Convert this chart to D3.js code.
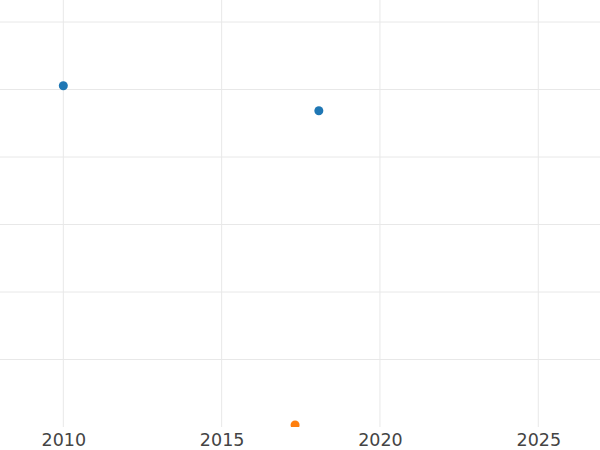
<!DOCTYPE html>
<html lang="en">
<head>
    <meta charset="utf-8">
    <title>Scatter</title>
    <script type="text/javascript" src="https://d3js.org/d3.v7.min.js"></script>
    <style type="text/css">
        body { margin: 0; background: #fff; }
        svg { font-family: "DejaVu Sans", sans-serif; }
    </style>
</head>
<body>
<script type="text/javascript">

    // data
    var blueYears = [2010.0, 2018.07];
    var blueValues = [50.55, 46.85];
    var orangeYears = [2017.32];
    var orangeValues = [0.3];
    var xTicks = [2010, 2015, 2020, 2025];
    var yTicks = [0, 10, 20, 30, 40, 50, 60];

    var width = 600, height = 450;
    var plotBottom = 427;

    var x = d3.scaleLinear()
        .domain([2008, 2026.95])
        .range([0, width]);

    var y = d3.scaleLinear()
        .domain([0, 63.26])
        .range([plotBottom, 0]);

    var svg = d3.select("body")
        .append("svg")
        .attr("width", width)
        .attr("height", height);

    svg.append("defs").append("clipPath")
        .attr("id", "plot-clip")
        .append("rect")
        .attr("x", 0).attr("y", 0)
        .attr("width", width).attr("height", plotBottom);

    // grid
    svg.append("g")
        .selectAll("line.v")
        .data(xTicks)
        .enter()
        .append("line")
        .attr("x1", function(d) { return x(d); })
        .attr("x2", function(d) { return x(d); })
        .attr("y1", 0)
        .attr("y2", plotBottom)
        .attr("stroke", "#e8e8e8")
        .attr("stroke-width", 1);

    svg.append("g")
        .selectAll("line.h")
        .data(yTicks.slice(1))
        .enter()
        .append("line")
        .attr("x1", 0)
        .attr("x2", width)
        .attr("y1", function(d) { return y(d); })
        .attr("y2", function(d) { return y(d); })
        .attr("stroke", "#e8e8e8")
        .attr("stroke-width", 1);

    // x axis labels
    var xAxis = d3.axisBottom(x)
        .tickValues(xTicks)
        .tickFormat(d3.format("d"))
        .tickSize(0)
        .tickPadding(7);

    var gx = svg.append("g")
        .attr("transform", "translate(0," + plotBottom + ")")
        .call(xAxis);
    gx.select(".domain").remove();
    gx.selectAll("text")
        .attr("font-family", "DejaVu Sans, sans-serif")
        .attr("font-size", 17.5)
        .attr("fill", "#444");

    // points
    var pts = svg.append("g").attr("clip-path", "url(#plot-clip)");

    pts.selectAll("circle.blue")
        .data(d3.zip(blueYears, blueValues))
        .enter()
        .append("circle")
        .attr("cx", function(d) { return x(d[0]); })
        .attr("cy", function(d) { return y(d[1]); })
        .attr("r", 4.5)
        .attr("fill", "#1f77b4");

    pts.selectAll("circle.orange")
        .data(d3.zip(orangeYears, orangeValues))
        .enter()
        .append("circle")
        .attr("cx", function(d) { return x(d[0]); })
        .attr("cy", function(d) { return y(d[1]); })
        .attr("r", 4.5)
        .attr("fill", "#ff7f0e");

</script>
</body>
</html>
